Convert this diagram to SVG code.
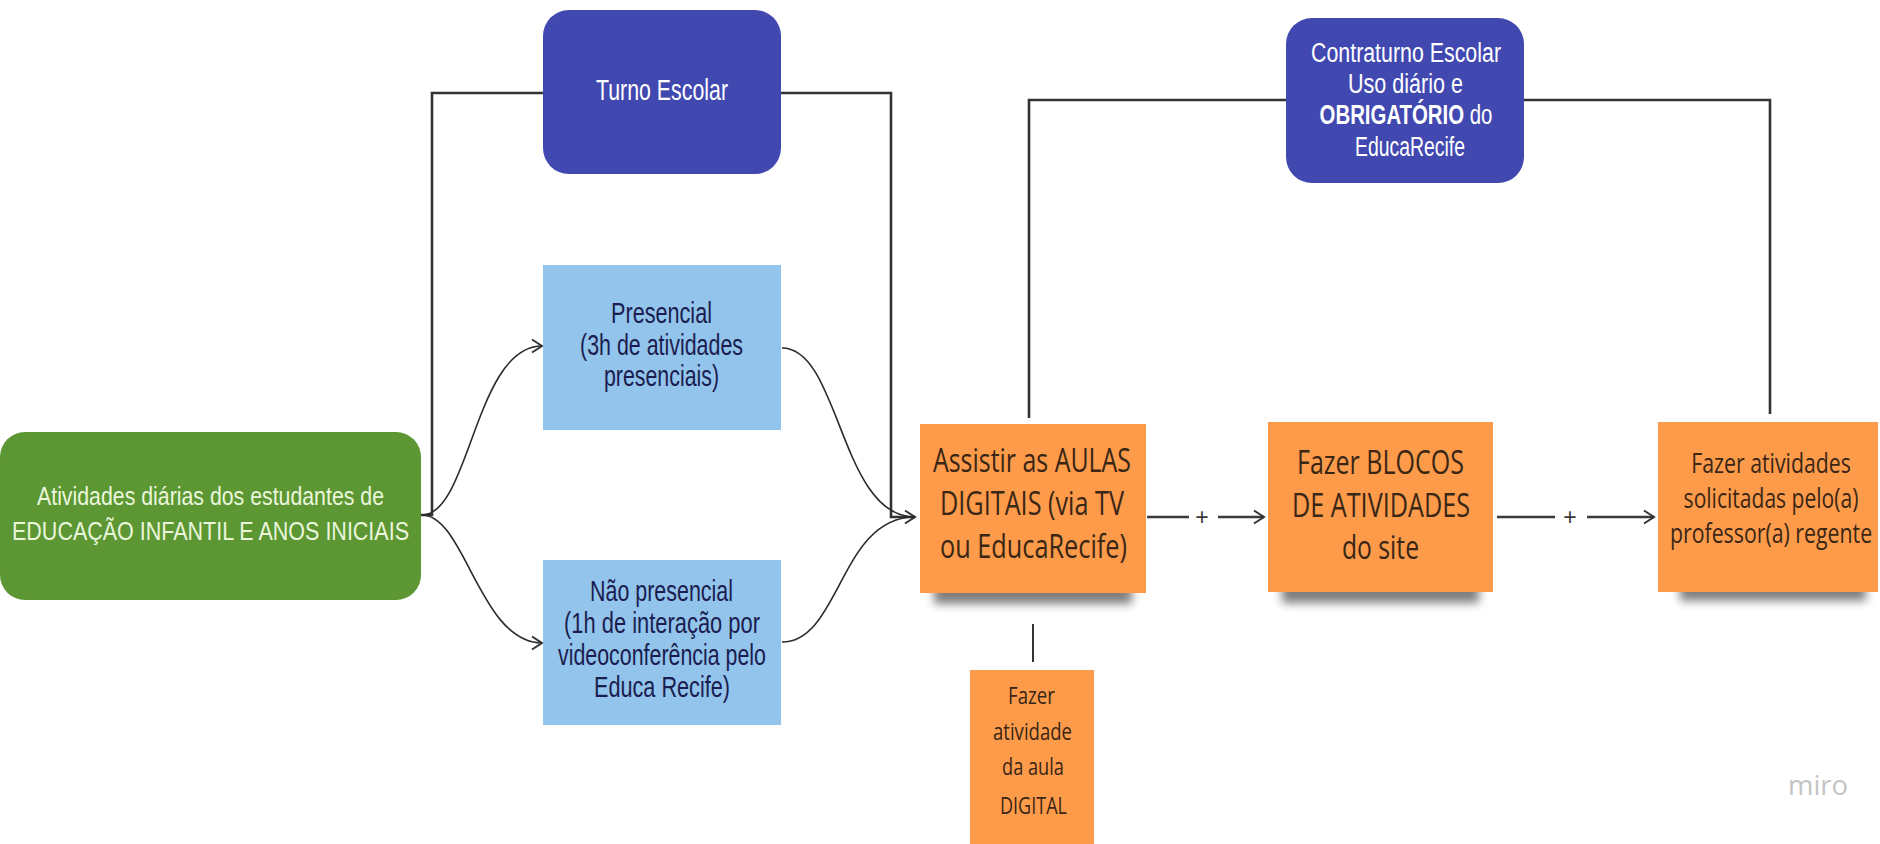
<svg xmlns="http://www.w3.org/2000/svg" width="1880" height="844" viewBox="0 0 1880 844">
<defs>
<style>
.ln{fill:none;stroke:#333;stroke-width:2}
.lt{fill:none;stroke:#333;stroke-width:2.6}
.cv{fill:none;stroke:#2b2b2b;stroke-width:1.6}
.ar{fill:none;stroke:#3a3a3a;stroke-width:2.4}
.sans{font-family:"Liberation Sans",Arial,sans-serif}
.os{font-family:"Open Sans","Noto Sans",sans-serif;fill:#3a2615}
.wt{fill:#ffffff}
.gt{fill:#eaf6dc}
.bt{fill:#1b1d50}
.org{fill:#fd9b4b}
.shd{fill:#000;opacity:0.5;filter:url(#sh)}
</style>
<marker id="arr" markerWidth="16" markerHeight="16" refX="13" refY="8" orient="auto" markerUnits="userSpaceOnUse">
<path d="M3,1.5 L13,8 L3,14.5" fill="none" stroke="#333" stroke-width="2"/>
</marker>
<filter id="sh" x="-20%" y="-150%" width="140%" height="400%">
<feGaussianBlur stdDeviation="5"/>
</filter>
</defs>
<rect width="1880" height="844" fill="#ffffff"/>

<g id="connectors">
<path class="lt" d="M421 515 L432 515 L432 93 L543 93"/>
<path class="lt" d="M781 93 L891 93 L891 517 L915 517"/>
<path class="cv" d="M422 515 C470 515 475 346 542 346" marker-end="url(#arr)"/>
<path class="cv" d="M422 515 C465 515 480 643 542 643" marker-end="url(#arr)"/>
<path class="cv" d="M782 348 C840 348 840 517 915 517" marker-end="url(#arr)"/>
<path class="cv" d="M782 642 C840 642 840 517 915 517"/>
<path class="lt" d="M1029 418 L1029 100 L1286 100"/>
<path class="lt" d="M1524 100 L1770 100 L1770 414"/>
<path class="ar" d="M1147 517 L1189 517"/>
<text class="sans" x="1202" y="525" font-size="23" text-anchor="middle" fill="#3a3a3a">+</text>
<path class="ar" d="M1218 517 L1264 517" marker-end="url(#arr)"/>
<path class="ar" d="M1497 517 L1555 517"/>
<text class="sans" x="1570" y="525" font-size="23" text-anchor="middle" fill="#3a3a3a">+</text>
<path class="ar" d="M1587 517 L1654 517" marker-end="url(#arr)"/>
<path class="ln" d="M1033 624 L1033 662"/>
</g>

<g id="node-atividades">
<rect x="0" y="432" width="421" height="168" rx="25" fill="#5c9733"/>
<text class="sans gt" font-size="26" x="37" y="505" textLength="347" lengthAdjust="spacingAndGlyphs">Atividades diárias dos estudantes de</text>
<text class="sans gt" font-size="26" x="12" y="540" textLength="397" lengthAdjust="spacingAndGlyphs">EDUCAÇÃO INFANTIL E ANOS INICIAIS</text>
</g>

<g id="node-turno">
<rect x="543" y="10" width="238" height="164" rx="26" fill="#4149b1"/>
<text class="sans wt" font-size="29" x="596" y="100" textLength="132" lengthAdjust="spacingAndGlyphs">Turno Escolar</text>
</g>

<g id="node-presencial">
<rect x="543" y="265" width="238" height="165" fill="#92c4ec"/>
<text class="sans bt" font-size="29" x="611" y="323" textLength="101" lengthAdjust="spacingAndGlyphs">Presencial</text>
<text class="sans bt" font-size="29" x="580" y="355" textLength="163" lengthAdjust="spacingAndGlyphs">(3h de atividades</text>
<text class="sans bt" font-size="29" x="604" y="386" textLength="115" lengthAdjust="spacingAndGlyphs">presenciais)</text>
</g>

<g id="node-naopresencial">
<rect x="543" y="560" width="238" height="165" fill="#92c4ec"/>
<text class="sans bt" font-size="29" x="590" y="601" textLength="143" lengthAdjust="spacingAndGlyphs">Não presencial</text>
<text class="sans bt" font-size="29" x="564" y="633" textLength="196" lengthAdjust="spacingAndGlyphs">(1h de interação por</text>
<text class="sans bt" font-size="29" x="558" y="665" textLength="208" lengthAdjust="spacingAndGlyphs">videoconferência pelo</text>
<text class="sans bt" font-size="29" x="594" y="697" textLength="136" lengthAdjust="spacingAndGlyphs">Educa Recife)</text>
</g>

<g id="node-contraturno">
<rect x="1286" y="18" width="238" height="165" rx="26" fill="#4149b1"/>
<text class="sans wt" font-size="27" x="1311" y="62" textLength="190" lengthAdjust="spacingAndGlyphs">Contraturno Escolar</text>
<text class="sans wt" font-size="27" x="1348" y="93" textLength="115" lengthAdjust="spacingAndGlyphs">Uso diário e</text>
<g transform="translate(1406 0) scale(0.755 1)">
<text class="sans wt" font-size="27" x="0" y="124" text-anchor="middle"><tspan font-weight="bold">OBRIGATÓRIO</tspan> do</text>
</g>
<text class="sans wt" font-size="27" x="1355" y="156" textLength="110" lengthAdjust="spacingAndGlyphs">EducaRecife</text>
</g>

<g id="node-assistir">
<rect class="shd" x="934" y="582" width="198" height="22"/>
<rect class="org" x="920" y="424" width="226" height="169"/>
<text class="os" font-size="33" x="933" y="472" textLength="198" lengthAdjust="spacingAndGlyphs">Assistir as AULAS</text>
<text class="os" font-size="33" x="940" y="515" textLength="184" lengthAdjust="spacingAndGlyphs">DIGITAIS (via TV</text>
<text class="os" font-size="33" x="940" y="558" textLength="187" lengthAdjust="spacingAndGlyphs">ou EducaRecife)</text>
</g>

<g id="node-blocos">
<rect class="shd" x="1282" y="581" width="197" height="22"/>
<rect class="org" x="1268" y="422" width="225" height="170"/>
<text class="os" font-size="33" x="1297" y="474" textLength="167" lengthAdjust="spacingAndGlyphs">Fazer BLOCOS</text>
<text class="os" font-size="33" x="1292" y="517" textLength="178" lengthAdjust="spacingAndGlyphs">DE ATIVIDADES</text>
<text class="os" font-size="33" x="1342" y="559" textLength="77" lengthAdjust="spacingAndGlyphs">do site</text>
</g>

<g id="node-professor">
<rect class="shd" x="1680" y="581" width="186" height="20"/>
<rect class="org" x="1658" y="422" width="220" height="170"/>
<g transform="translate(1771 0) scale(0.76 1)">
<text class="os" font-size="27" x="0" y="473" text-anchor="middle" textLength="210" lengthAdjust="spacingAndGlyphs">Fazer atividades</text>
<text class="os" font-size="27" x="0" y="508" text-anchor="middle" textLength="230" lengthAdjust="spacingAndGlyphs">solicitadas pelo(a)</text>
<text class="os" font-size="27" x="0" y="543" text-anchor="middle" textLength="266" lengthAdjust="spacingAndGlyphs">professor(a) regente</text>
</g>
</g>

<g id="node-atividade-digital">
<rect class="org" x="970" y="670" width="124" height="180"/>
<text class="os" font-size="23" x="1008" y="704" textLength="47" lengthAdjust="spacingAndGlyphs">Fazer</text>
<text class="os" font-size="23" x="993" y="740" textLength="79" lengthAdjust="spacingAndGlyphs">atividade</text>
<text class="os" font-size="23" x="1002" y="775" textLength="62" lengthAdjust="spacingAndGlyphs">da aula</text>
<text class="os" font-size="23" x="1000" y="814" textLength="67" lengthAdjust="spacingAndGlyphs">DIGITAL</text>
</g>

<text x="1788" y="795" font-family="'Open Sans','Noto Sans',sans-serif" font-size="28" fill="#c4c4c4" textLength="60" lengthAdjust="spacingAndGlyphs">miro</text>
</svg>
